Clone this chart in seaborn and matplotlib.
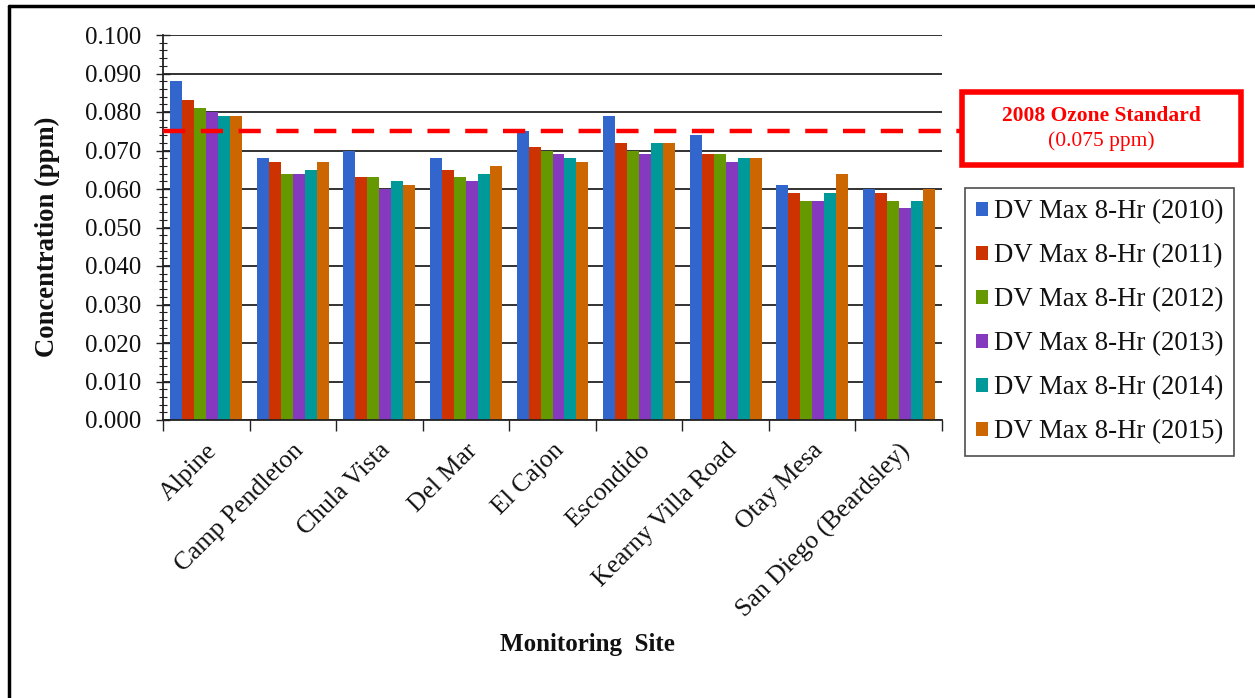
import matplotlib
matplotlib.use("Agg")
import matplotlib.pyplot as plt
from matplotlib.lines import Line2D
from matplotlib.patches import Rectangle, Patch
from matplotlib.ticker import MultipleLocator, FixedLocator, NullFormatter
import seaborn as sns
import pandas as pd

# Monitoring sites and design values (ppm) per year
sites = ["Alpine", "Camp Pendleton", "Chula Vista", "Del Mar", "El Cajon",
         "Escondido", "Kearny Villa Road", "Otay Mesa", "San Diego (Beardsley)"]
series_names = ["DV Max 8-Hr (2010)", "DV Max 8-Hr (2011)", "DV Max 8-Hr (2012)",
                "DV Max 8-Hr (2013)", "DV Max 8-Hr (2014)", "DV Max 8-Hr (2015)"]
dv_2010 = [0.088, 0.068, 0.070, 0.068, 0.075, 0.079, 0.074, 0.061, 0.060]
dv_2011 = [0.083, 0.067, 0.063, 0.065, 0.071, 0.072, 0.069, 0.059, 0.059]
dv_2012 = [0.081, 0.064, 0.063, 0.063, 0.070, 0.070, 0.069, 0.057, 0.057]
dv_2013 = [0.080, 0.064, 0.060, 0.062, 0.069, 0.069, 0.067, 0.057, 0.055]
dv_2014 = [0.079, 0.065, 0.062, 0.064, 0.068, 0.072, 0.068, 0.059, 0.057]
dv_2015 = [0.079, 0.067, 0.061, 0.066, 0.067, 0.072, 0.068, 0.064, 0.060]
standard = 0.075
yticks = [0.000, 0.010, 0.020, 0.030, 0.040, 0.050, 0.060, 0.070, 0.080, 0.090, 0.100]

colors = ["#3366CC", "#CC3300", "#669900", "#8439BE", "#009999", "#CC6600"]

series = [dv_2010, dv_2011, dv_2012, dv_2013, dv_2014, dv_2015]
rows = []
for name, vals in zip(series_names, series):
    for s, v in zip(sites, vals):
        rows.append({"Site": s, "Series": name, "Value": v})
df = pd.DataFrame(rows)

sns.set_theme(style="white")
plt.rcParams["font.family"] = ["Liberation Serif", "DejaVu Serif"]

W, H = 1255, 698
fig = plt.figure(figsize=(W / 100, H / 100), dpi=100)
ax = fig.add_axes([163 / W, 1 - 420 / H, (942 - 163) / W, (420 - 35) / H])

sns.barplot(data=df, x="Site", y="Value", hue="Series", order=sites,
            hue_order=series_names, palette=colors, width=0.83, saturation=1,
            linewidth=0, ax=ax, legend=False)

ax.set_xlim(-0.5, len(sites) - 0.5)
ax.set_ylim(0, 0.100)
ax.set_yticks(yticks)
ax.set_yticklabels([f"{t:.3f}" for t in yticks], fontsize=18, color="#111111")
ax.yaxis.set_minor_locator(MultipleLocator(0.002))
ax.grid(axis="y", which="major", color="#222222", linewidth=1.3)
ax.set_axisbelow(True)
ax.tick_params(axis="y", which="major", direction="inout", length=10, width=1.0,
               color="#222222", left=True, pad=11)
ax.tick_params(axis="y", which="minor", direction="inout", length=6, width=0.8,
               color="#222222", left=True)

# category boundaries carry the tick marks, centres carry the labels
ax.xaxis.set_major_locator(FixedLocator([i - 0.5 for i in range(len(sites) + 1)]))
ax.xaxis.set_major_formatter(NullFormatter())
ax.xaxis.set_minor_locator(FixedLocator(list(range(len(sites)))))
ax.set_xticklabels(sites, minor=True, rotation=45, ha="right",
                   rotation_mode="anchor", fontsize=18.5, color="#111111")
ax.tick_params(axis="x", which="major", direction="out", length=8, width=1.0,
               color="#222222", bottom=True)
ax.tick_params(axis="x", which="minor", length=0, pad=14)

for side in ["top", "right"]:
    ax.spines[side].set_visible(False)
for side in ["left", "bottom"]:
    ax.spines[side].set_color("#222222")
    ax.spines[side].set_linewidth(1.3)

ax.set_xlabel("")
ax.set_ylabel("")
fig.text(47 / W, 1 - 237 / H, "Concentration (ppm)", rotation=90, ha="center",
         va="center", fontsize=19.2, fontweight="bold", color="#111111")
fig.text(587 / W, 1 - 645 / H, "Monitoring  Site", ha="center", va="center",
         fontsize=18, fontweight="bold", color="#111111")

# ozone standard line running out to the callout box
ax.plot([-0.5, (960 - 163) / ((942 - 163) / len(sites)) - 0.5], [standard, standard],
        color="#FF0000", linewidth=3.2, dashes=(5, 3.5), clip_on=False, zorder=5)

fig.patches.append(Rectangle((962 / W, 1 - 165 / H), (1241 - 962) / W, (165 - 92) / H,
                             transform=fig.transFigure, fill=False,
                             edgecolor="#FF0000", linewidth=4))
fig.text(1101 / W, 1 - 116 / H, "2008 Ozone Standard", ha="center", va="center",
         fontsize=15.5, fontweight="bold", color="#FF0000")
fig.text(1101 / W, 1 - 141 / H, "(0.075 ppm)", ha="center", va="center",
         fontsize=15.5, color="#FF0000")

handles = [Patch(facecolor=c, edgecolor="none") for c in colors]
leg = fig.legend(handles, series_names, loc="upper left",
                 bbox_to_anchor=(965 / W, 1 - 188 / H), fontsize=19.3,
                 frameon=True, fancybox=False, handlelength=0.45,
                 handleheight=0.45, handletextpad=0.2, labelspacing=0.71,
                 borderpad=0.42, borderaxespad=0)
leg.get_frame().set_edgecolor("#222222")
leg.get_frame().set_linewidth(1.2)
for t in leg.get_texts():
    t.set_color("#111111")

# outer frame lines along the top and left edges
fig.add_artist(Line2D([9 / W, 9 / W], [0, 1 - 6 / H], transform=fig.transFigure,
                      color="black", linewidth=2.5))
fig.add_artist(Line2D([9 / W, 1], [1 - 6 / H, 1 - 6 / H], transform=fig.transFigure,
                      color="black", linewidth=2.5))

fig.savefig("out.png", dpi=100, facecolor="white")
